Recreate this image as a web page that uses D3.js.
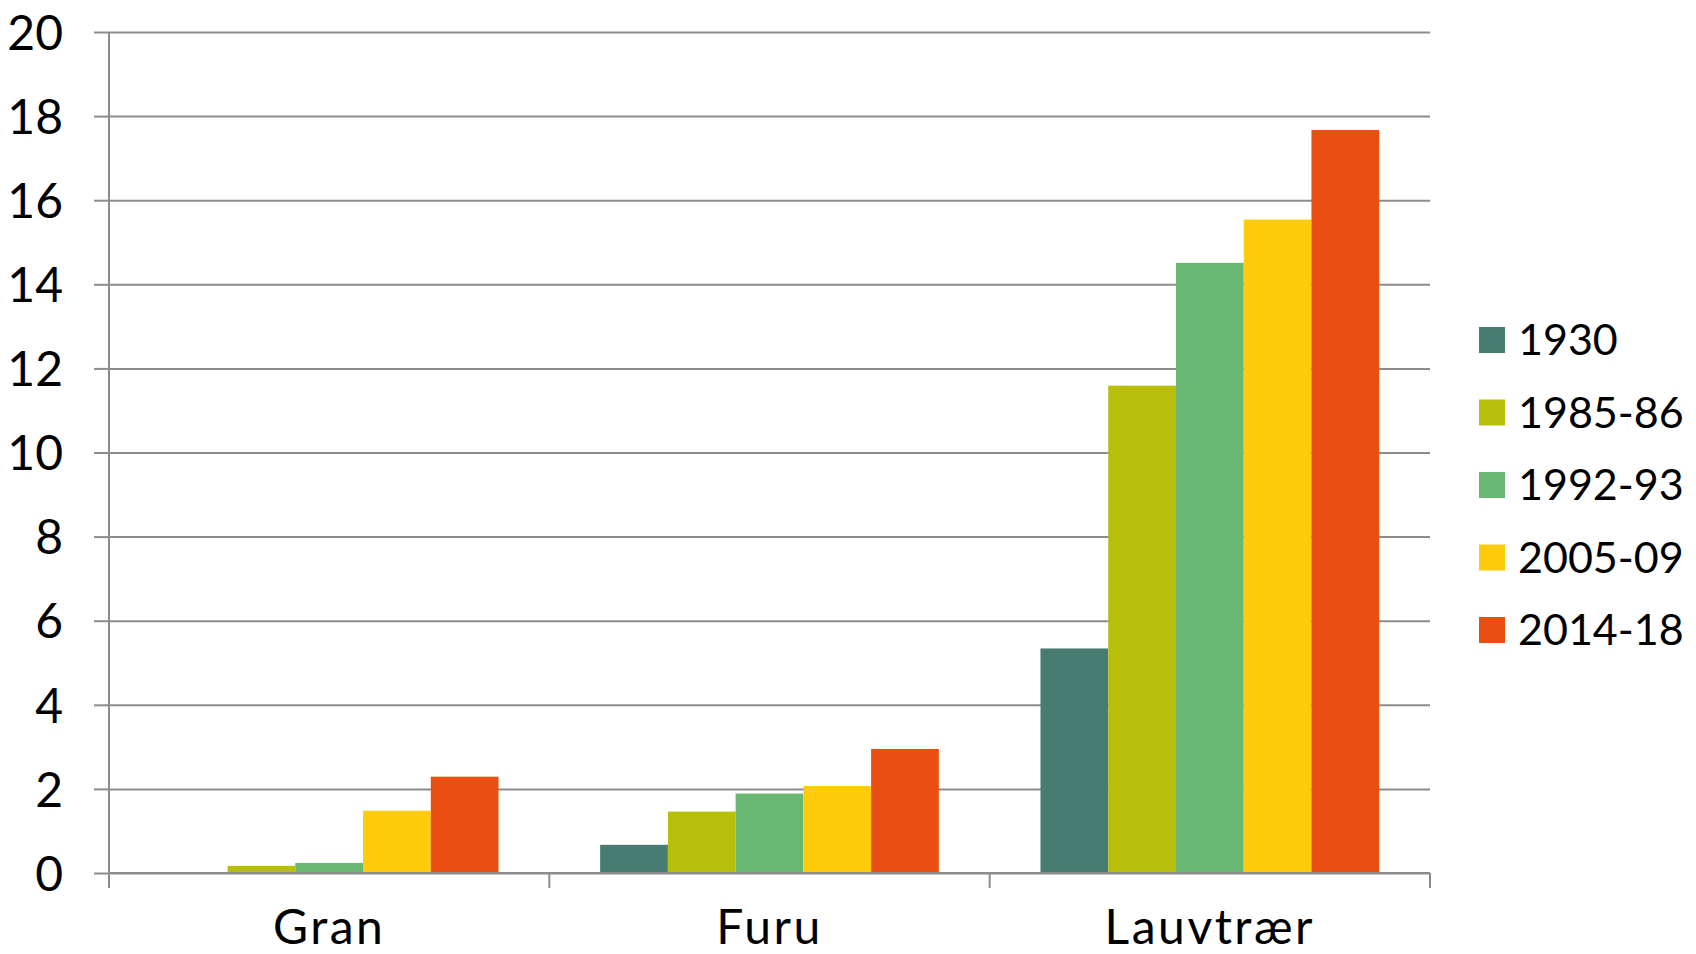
<!DOCTYPE html>
<html lang="no">
<head>
    <meta charset="UTF-8">
    <title>Treslag</title>
    <style>
        html, body { margin: 0; padding: 0; background: #fff; }
        svg text { font-family: Lato, "Open Sans", sans-serif; fill: #000; }
    </style>
</head>
<body>
    <script src="https://d3js.org/d3.v7.min.js"></script>
    <div id="chart"></div>
    <script>

// Data
const categories = ["Gran", "Furu", "Lauvtrær"];
const series = ["1930", "1985-86", "1992-93", "2005-09", "2014-18"];
const v1930   = [0,    0.67, 5.34];
const v1985   = [0.17, 1.46, 11.59];
const v1992   = [0.24, 1.89, 14.51];
const v2005   = [1.48, 2.07, 15.54];
const v2014   = [2.29, 2.95, 17.67];
const colors  = ["#477c73", "#b7bf0a", "#6ab673", "#fecc0a", "#e84f10"];
const yTicks  = [0, 2, 4, 6, 8, 10, 12, 14, 16, 18, 20];

const values = [v1930, v1985, v1992, v2005, v2014];

const width = 1696;
const height = 954;
const margin = { top: 32, right: 266, bottom: 81, left: 109 };

const svg = d3.select("#chart").append("svg")
    .attr("width", width)
    .attr("height", height);

const x = d3.scaleBand()
    .domain(categories)
    .range([margin.left, width - margin.right])
    .padding(0);

const x1 = d3.scaleBand()
    .domain(series)
    .range([0, x.bandwidth()])
    .paddingInner(0)
    .paddingOuter(0.75);

const y = d3.scaleLinear()
    .domain([0, 20])
    .range([height - margin.bottom, margin.top]);

const plotW = width - margin.left - margin.right;

// Gridlines
svg.append("g")
    .attr("transform", `translate(${margin.left},0)`)
    .call(d3.axisLeft(y).tickValues(yTicks).tickSize(-plotW).tickFormat(""))
    .call(g => g.select(".domain").remove())
    .call(g => g.selectAll("line").attr("stroke", "#8c8c8c").attr("stroke-width", 2));

// Y axis with ticks and labels
svg.append("g")
    .attr("transform", `translate(${margin.left},0)`)
    .call(d3.axisLeft(y).tickValues(yTicks).tickSize(15).tickPadding(31))
    .call(g => g.select(".domain")
        .attr("d", `M0,${margin.top}V${height - margin.bottom + 15}`)
        .attr("stroke", "#8c8c8c").attr("stroke-width", 2))
    .call(g => g.selectAll("line").attr("stroke", "#8c8c8c").attr("stroke-width", 2))
    .call(g => g.selectAll("text")
        .style("font-size", "48px")
        .attr("dy", "0.36em"));

// Bars
const group = svg.append("g").selectAll("g")
    .data(categories)
    .join("g")
    .attr("transform", d => `translate(${x(d)},0)`);

group.selectAll("rect")
    .data((c, ci) => series.map((s, si) => ({ s: s, si: si, v: values[si][ci] })))
    .join("rect")
    .attr("x", d => x1(d.s))
    .attr("width", x1.bandwidth())
    .attr("y", d => y(d.v))
    .attr("height", d => y(0) - y(d.v))
    .attr("fill", d => colors[d.si]);

// X axis
const xAxis = svg.append("g")
    .attr("transform", `translate(0,${y(0)})`)
    .call(d3.axisBottom(x).tickSize(0).tickPadding(62))
    .call(g => g.select(".domain")
        .attr("d", `M${margin.left},0H${width - margin.right}`)
        .attr("stroke", "#8c8c8c").attr("stroke-width", 2))
    .call(g => g.selectAll("text")
        .style("font-size", "48px")
        .style("letter-spacing", "2.5px")
        .attr("dy", "0.19em"));

// Category separator ticks
xAxis.selectAll(".sep")
    .data(categories)
    .join("line")
    .attr("class", "sep")
    .attr("x1", d => x(d) + x.bandwidth())
    .attr("x2", d => x(d) + x.bandwidth())
    .attr("y1", 0)
    .attr("y2", 15)
    .attr("stroke", "#8c8c8c")
    .attr("stroke-width", 2);

// Legend
const legend = svg.append("g")
    .attr("transform", "translate(1479,340)");

const item = legend.selectAll("g")
    .data(series)
    .join("g")
    .attr("transform", (d, i) => `translate(0,${i * 72.5})`);

item.append("rect")
    .attr("x", 0)
    .attr("y", -13)
    .attr("width", 26)
    .attr("height", 26)
    .attr("fill", (d, i) => colors[i]);

item.append("text")
    .attr("x", 39)
    .attr("dy", "0.36em")
    .style("font-size", "43px")
    .text(d => d);

    </script>
</body>
</html>
